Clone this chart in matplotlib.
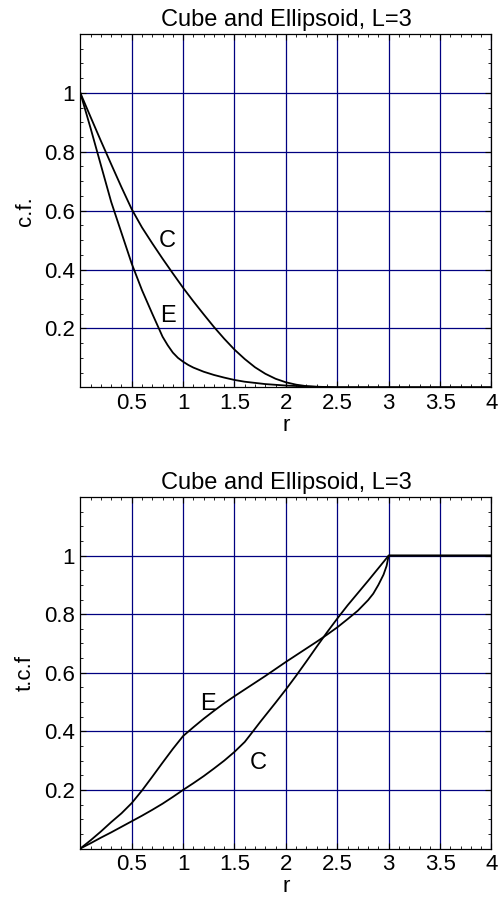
import matplotlib
matplotlib.use('Agg')
import matplotlib.pyplot as plt
from matplotlib.ticker import MultipleLocator, FixedLocator, FuncFormatter

plt.rcParams['font.family'] = ['Liberation Sans', 'DejaVu Sans']

# correlation function, cube (C) and ellipsoid (E)
r_cf_c = [0, 0.1, 0.2, 0.3, 0.4, 0.5, 0.6, 0.7, 0.8, 0.9, 1.0, 1.1, 1.2, 1.3,
          1.4, 1.5, 1.6, 1.7, 1.8, 1.9, 2.0, 2.1, 2.2, 2.3, 2.4, 2.5, 4.0]
cf_c = [1.0, 0.918, 0.837, 0.758, 0.68, 0.605, 0.543, 0.489, 0.437, 0.387,
        0.338, 0.292, 0.248, 0.205, 0.165, 0.128, 0.096, 0.068, 0.046, 0.029,
        0.017, 0.009, 0.004, 0.0015, 0.0004, 0.0, 0.0]
r_cf_e = [0, 0.1, 0.2, 0.3, 0.4, 0.5, 0.6, 0.7, 0.8, 0.85, 0.9, 0.95, 1.0,
          1.05, 1.1, 1.2, 1.3, 1.4, 1.5, 1.6, 1.8, 2.0, 2.2, 2.4, 2.5, 4.0]
cf_e = [1.0, 0.88, 0.755, 0.63, 0.525, 0.42, 0.33, 0.25, 0.172, 0.143, 0.118,
        0.1, 0.087, 0.076, 0.067, 0.053, 0.042, 0.033, 0.025, 0.019, 0.011,
        0.006, 0.003, 0.001, 0.0, 0.0]

# t.c.f
r_tcf_c = [0, 0.1, 0.2, 0.3, 0.4, 0.5, 0.6, 0.7, 0.8, 0.9, 1.0, 1.1, 1.2, 1.3,
           1.4, 1.5, 1.6, 1.68, 1.75, 1.9, 2.0, 2.1, 2.2, 2.3, 2.4, 2.5, 2.6,
           2.7, 2.8, 2.9, 3.0, 4.0]
tcf_c = [0.0, 0.018, 0.037, 0.055, 0.074, 0.093, 0.112, 0.132, 0.153, 0.176,
         0.2, 0.223, 0.247, 0.273, 0.3, 0.33, 0.364, 0.4, 0.432, 0.498, 0.543,
         0.59, 0.639, 0.689, 0.738, 0.785, 0.83, 0.872, 0.914, 0.957, 1.0, 1.0]
r_tcf_e = [0, 0.1, 0.2, 0.3, 0.4, 0.5, 0.6, 0.7, 0.8, 0.9, 1.0, 1.1, 1.2, 1.3,
           1.4, 1.5, 1.6, 1.7, 1.8, 1.9, 2.0, 2.1, 2.2, 2.3, 2.4, 2.5, 2.6,
           2.7, 2.8, 2.85, 2.9, 2.95, 2.98, 3.0, 4.0]
tcf_e = [0.0, 0.028, 0.058, 0.09, 0.12, 0.155, 0.198, 0.245, 0.293, 0.34,
         0.384, 0.414, 0.443, 0.47, 0.496, 0.52, 0.543, 0.566, 0.589, 0.613,
         0.637, 0.66, 0.683, 0.706, 0.73, 0.755, 0.783, 0.812, 0.848, 0.87,
         0.9, 0.935, 0.965, 1.0, 1.0]

x_ticks = [0.5, 1, 1.5, 2, 2.5, 3, 3.5, 4]
y_ticks = [0.2, 0.4, 0.6, 0.8, 1]

title = 'Cube and Ellipsoid, L=3'
fs = 17
fs_tick = 16
grid_col = '#000080'

fig = plt.figure(figsize=(5.02, 9.02), dpi=100)
ax1 = fig.add_axes([0.16, 0.5706, 0.819, 0.3917])
ax2 = fig.add_axes([0.16, 0.0593, 0.819, 0.3897])


def style(ax, ylabel):
    ax.set_xlim(0, 4)
    ax.set_ylim(0, 1.2)
    ax.xaxis.set_major_locator(FixedLocator(x_ticks))
    ax.yaxis.set_major_locator(FixedLocator(y_ticks))
    ax.xaxis.set_minor_locator(MultipleLocator(0.1))
    ax.yaxis.set_minor_locator(MultipleLocator(0.05))
    fmt = FuncFormatter(lambda v, p: '%g' % v)
    ax.xaxis.set_major_formatter(fmt)
    ax.yaxis.set_major_formatter(fmt)
    ax.tick_params(which='both', direction='in', top=True, right=True,
                   labelsize=fs_tick, pad=4)
    ax.tick_params(which='major', length=4, width=0.8)
    ax.tick_params(which='minor', length=2, width=0.6)
    ax.grid(True, which='major', color=grid_col, linewidth=0.9)
    ax.set_axisbelow(True)
    for s in ax.spines.values():
        s.set_linewidth(0.9)
    ax.set_title(title, fontsize=fs, pad=6)
    ax.set_xlabel('r', fontsize=fs_tick, labelpad=1)
    ax.set_ylabel(ylabel, fontsize=fs_tick, labelpad=6)


style(ax1, 'c.f.')
ax1.plot(r_cf_c, cf_c, color='black', lw=1.3)
ax1.plot(r_cf_e, cf_e, color='black', lw=1.3)
ax1.text(0.842, 0.497, 'C', fontsize=fs, ha='center', va='center')
ax1.text(0.852, 0.243, 'E', fontsize=fs, ha='center', va='center')

style(ax2, 't.c.f')
ax2.plot(r_tcf_c, tcf_c, color='black', lw=1.3)
ax2.plot(r_tcf_e, tcf_e, color='black', lw=1.3)
ax2.text(1.247, 0.493, 'E', fontsize=fs, ha='center', va='center')
ax2.text(1.733, 0.293, 'C', fontsize=fs, ha='center', va='center')

fig.savefig('out.png', dpi=100)
